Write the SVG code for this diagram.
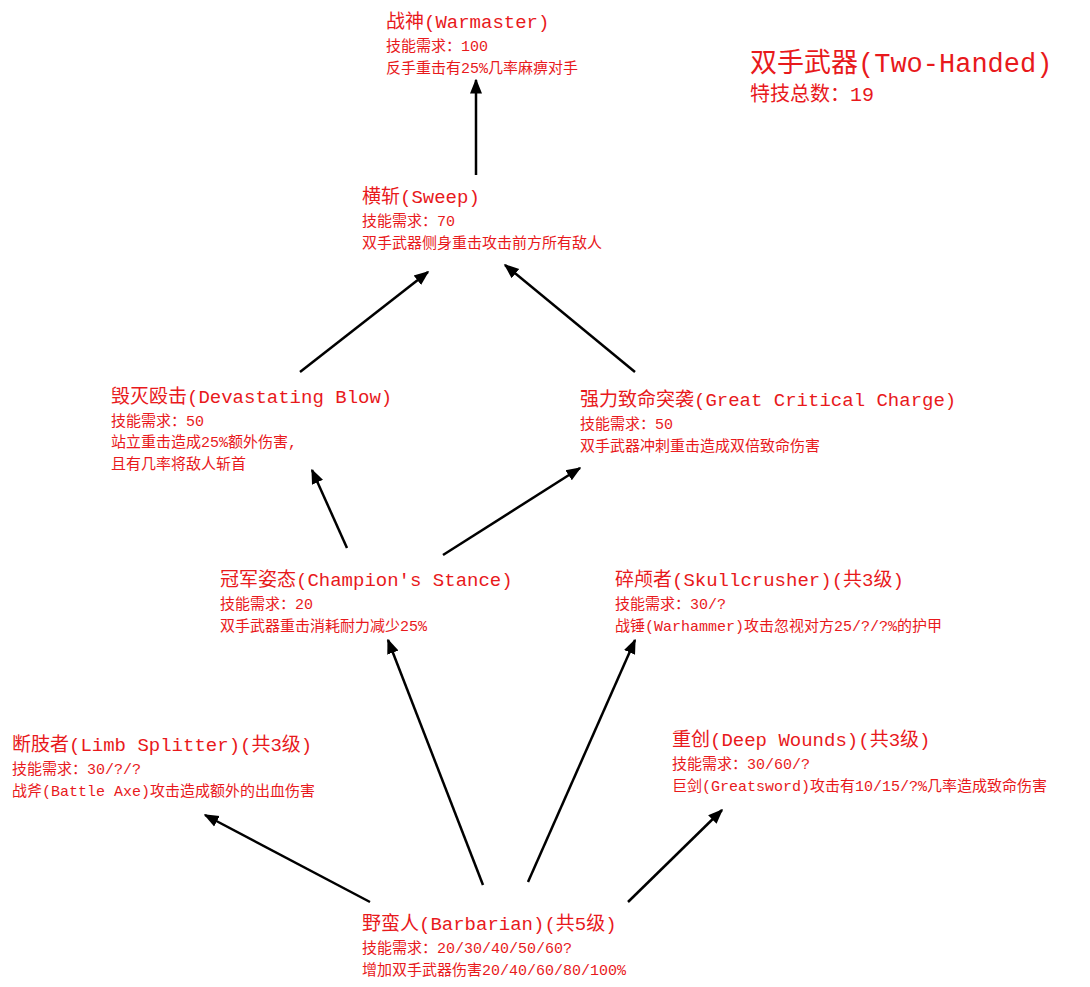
<svg xmlns="http://www.w3.org/2000/svg" width="1090" height="987" viewBox="0 0 1090 987">
<defs>
<style>
text{fill:#e8191c;font-family:"Liberation Mono","Noto Sans CJK SC",monospace}
.t{font-size:19px}
.b{font-size:15px}
.big{font-size:27px}
.mid{font-size:20px}
line{stroke:#000;stroke-width:2.5;marker-end:url(#ah)}
</style>
<marker id="ah" viewBox="0 0 10 10" refX="9" refY="5" markerWidth="6" markerHeight="6" markerUnits="strokeWidth" orient="auto"><path d="M0,1 L10,5 L0,9 Z" fill="#000"/></marker>
</defs>
<rect width="1090" height="987" fill="#fff"/>
<g id="connectors">
<line x1="476" y1="175" x2="476" y2="80"/>
<line x1="300" y1="372" x2="428" y2="272"/>
<line x1="635" y1="372" x2="505" y2="265"/>
<line x1="347" y1="548" x2="312" y2="470"/>
<line x1="443" y1="555" x2="580" y2="468"/>
<line x1="483" y1="885" x2="388" y2="640"/>
<line x1="528" y1="882" x2="635" y2="640"/>
<line x1="370" y1="902" x2="205" y2="815"/>
<line x1="628" y1="902" x2="722" y2="810"/>
</g>
<g id="title"><text class="big" x="750" y="72">双手武器(Two-Handed)</text><text class="mid" x="750" y="101">特技总数：19</text></g>
<g id="warmaster"><text class="t" x="386" y="28">战神(Warmaster)</text><text class="b" x="386" y="51">技能需求：100</text><text class="b" x="386" y="73">反手重击有25%几率麻痹对手</text></g>
<g id="sweep"><text class="t" x="362" y="203">横斩(Sweep)</text><text class="b" x="362" y="226">技能需求：70</text><text class="b" x="362" y="248">双手武器侧身重击攻击前方所有敌人</text></g>
<g id="devastating"><text class="t" x="111" y="403">毁灭殴击(Devastating Blow)</text><text class="b" x="111" y="426">技能需求：50</text><text class="b" x="111" y="447">站立重击造成25%额外伤害,</text><text class="b" x="111" y="469">且有几率将敌人斩首</text></g>
<g id="gcc"><text class="t" x="580" y="406">强力致命突袭(Great Critical Charge)</text><text class="b" x="580" y="429">技能需求：50</text><text class="b" x="580" y="451">双手武器冲刺重击造成双倍致命伤害</text></g>
<g id="champion"><text class="t" x="220" y="586">冠军姿态(Champion's Stance)</text><text class="b" x="220" y="609">技能需求：20</text><text class="b" x="220" y="631">双手武器重击消耗耐力减少25%</text></g>
<g id="skull"><text class="t" x="615" y="586">碎颅者(Skullcrusher)(共3级)</text><text class="b" x="615" y="609">技能需求：30/?</text><text class="b" x="615" y="631">战锤(Warhammer)攻击忽视对方25/?/?%的护甲</text></g>
<g id="limb"><text class="t" x="12" y="751">断肢者(Limb Splitter)(共3级)</text><text class="b" x="12" y="774">技能需求：30/?/?</text><text class="b" x="12" y="796">战斧(Battle Axe)攻击造成额外的出血伤害</text></g>
<g id="deep"><text class="t" x="672" y="746">重创(Deep Wounds)(共3级)</text><text class="b" x="672" y="769">技能需求：30/60/?</text><text class="b" x="672" y="791">巨剑(Greatsword)攻击有10/15/?%几率造成致命伤害</text></g>
<g id="barbarian"><text class="t" x="362" y="930">野蛮人(Barbarian)(共5级)</text><text class="b" x="362" y="953">技能需求：20/30/40/50/60?</text><text class="b" x="362" y="975">增加双手武器伤害20/40/60/80/100%</text></g>
</svg>
